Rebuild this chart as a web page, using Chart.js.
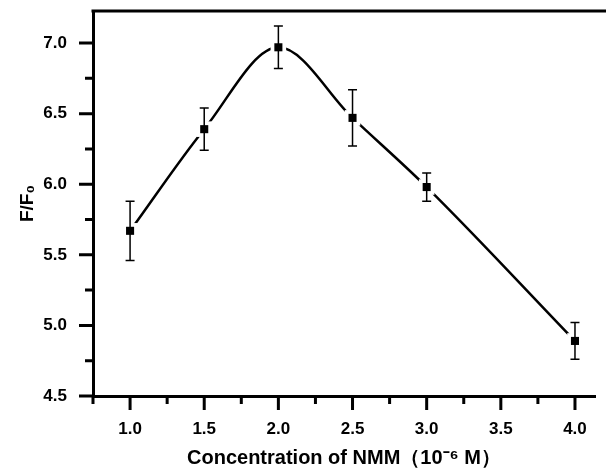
<!DOCTYPE html>
<html>
<head>
<meta charset="utf-8">
<script src="https://cdn.jsdelivr.net/npm/chart.js@4/dist/chart.umd.min.js"></script>
<style>
  body { margin: 0; background: #fff; }
  #wrap { width: 606px; height: 474px; }
</style>
</head>
<body>
<div id="wrap"><canvas id="chart_canvas" width="606" height="474"></canvas></div>
<script>
// data
const concentration = [1.0, 1.5, 2.0, 2.5, 3.0, 4.0];
const ratio = [5.67, 6.39, 6.97, 6.47, 5.98, 4.89];
const ratioErr = [0.21, 0.15, 0.15, 0.20, 0.10, 0.13];

const xMajor = [1.0, 1.5, 2.0, 2.5, 3.0, 3.5, 4.0];
const xMinor = [0.75, 1.25, 1.75, 2.25, 2.75, 3.25, 3.75];
const yMajor = [4.5, 5.0, 5.5, 6.0, 6.5, 7.0];
const yMinor = [4.75, 5.25, 5.75, 6.25, 6.75];

const pts = concentration.map((c, i) => ({ x: c, y: ratio[i] }));
const fontFam = "'Liberation Sans', Arial, sans-serif";

// error bars, tick marks and the top frame line
const extras = {
    id: 'extras',
    afterDatasetsDraw(chart) {
        const { ctx, scales: { x, y } } = chart;
        ctx.save();
        ctx.strokeStyle = '#000';
        ctx.lineWidth = 1.5;
        concentration.forEach((c, i) => {
            const px = x.getPixelForValue(c);
            const top = y.getPixelForValue(ratio[i] + ratioErr[i]);
            const bot = y.getPixelForValue(ratio[i] - ratioErr[i]);
            ctx.beginPath();
            ctx.moveTo(px, top); ctx.lineTo(px, bot);
            ctx.moveTo(px - 4.5, top); ctx.lineTo(px + 4.5, top);
            ctx.moveTo(px - 4.5, bot); ctx.lineTo(px + 4.5, bot);
            ctx.stroke();
        });
        ctx.restore();
    },
    afterDraw(chart) {
        const { ctx, chartArea: { left, top, bottom }, scales: { x, y } } = chart;
        ctx.save();
        ctx.strokeStyle = '#000';
        ctx.lineWidth = 3;
        ctx.beginPath();
        xMajor.forEach(v => { const p = x.getPixelForValue(v); ctx.moveTo(p, bottom); ctx.lineTo(p, bottom + 14); });
        xMinor.forEach(v => { const p = x.getPixelForValue(v); ctx.moveTo(p, bottom); ctx.lineTo(p, bottom + 8); });
        yMajor.forEach(v => { const p = y.getPixelForValue(v); ctx.moveTo(left, p); ctx.lineTo(left - 14, p); });
        yMinor.forEach(v => { const p = y.getPixelForValue(v); ctx.moveTo(left, p); ctx.lineTo(left - 8, p); });
        ctx.moveTo(left - 1.5, top);
        ctx.lineTo(chart.width, top);
        ctx.stroke();
        ctx.restore();
    }
};

const conf = {
    type: 'scatter',
    data: {
        datasets: [{
            data: pts,
            showLine: true,
            borderColor: '#000',
            borderWidth: 2.5,
            cubicInterpolationMode: 'monotone',
            pointRadius: 0,
            order: 3
        }, {
            // white squares that open a small gap in the line round each marker
            data: pts,
            showLine: false,
            pointStyle: 'rect',
            pointRadius: 11,
            pointBackgroundColor: '#fff',
            pointBorderWidth: 0,
            order: 2
        }, {
            data: pts,
            showLine: false,
            pointStyle: 'rect',
            pointRadius: 5.7,
            pointBackgroundColor: '#000',
            pointBorderWidth: 0,
            order: 1
        }]
    },
    options: {
        responsive: false,
        animation: false,
        layout: { padding: { top: 2, left: 16, right: 0, bottom: 4 } },
        plugins: { legend: { display: false }, tooltip: { enabled: false } },
        scales: {
            x: {
                type: 'linear',
                min: 0.75,
                max: 4.135,
                afterBuildTicks: s => { s.ticks = xMajor.map(v => ({ value: v })); },
                afterFit: s => { s.height = 74; s.paddingLeft = 0; s.paddingRight = 0; },
                grid: { display: false },
                border: { display: true, color: '#000', width: 3 },
                ticks: {
                    padding: 15,
                    color: '#000',
                    font: { family: fontFam, size: 17, weight: 'bold' },
                    callback: v => v.toFixed(1)
                },
                title: {
                    display: true,
                    text: 'Concentration of NMM（10⁻⁶ M）',
                    color: '#000',
                    font: { family: fontFam, size: 20, weight: 'bold' },
                    padding: { top: 0, bottom: 0 }
                }
            },
            y: {
                min: 4.5,
                max: 7.227,
                afterBuildTicks: s => { s.ticks = yMajor.map(v => ({ value: v })); },
                afterFit: s => { s.width = 77; s.paddingTop = 0; s.paddingBottom = 0; },
                grid: { display: false },
                border: { display: true, color: '#000', width: 3 },
                ticks: {
                    padding: 18,
                    color: '#000',
                    font: { family: fontFam, size: 17, weight: 'bold' },
                    callback: v => v.toFixed(1)
                },
                title: {
                    display: true,
                    text: 'F/F₀',
                    color: '#000',
                    font: { family: fontFam, size: 19, weight: 'bold' },
                    padding: { top: 0, bottom: 0 }
                }
            }
        }
    },
    plugins: [extras]
};

new Chart(document.getElementById('chart_canvas'), conf);
</script>
</body>
</html>
